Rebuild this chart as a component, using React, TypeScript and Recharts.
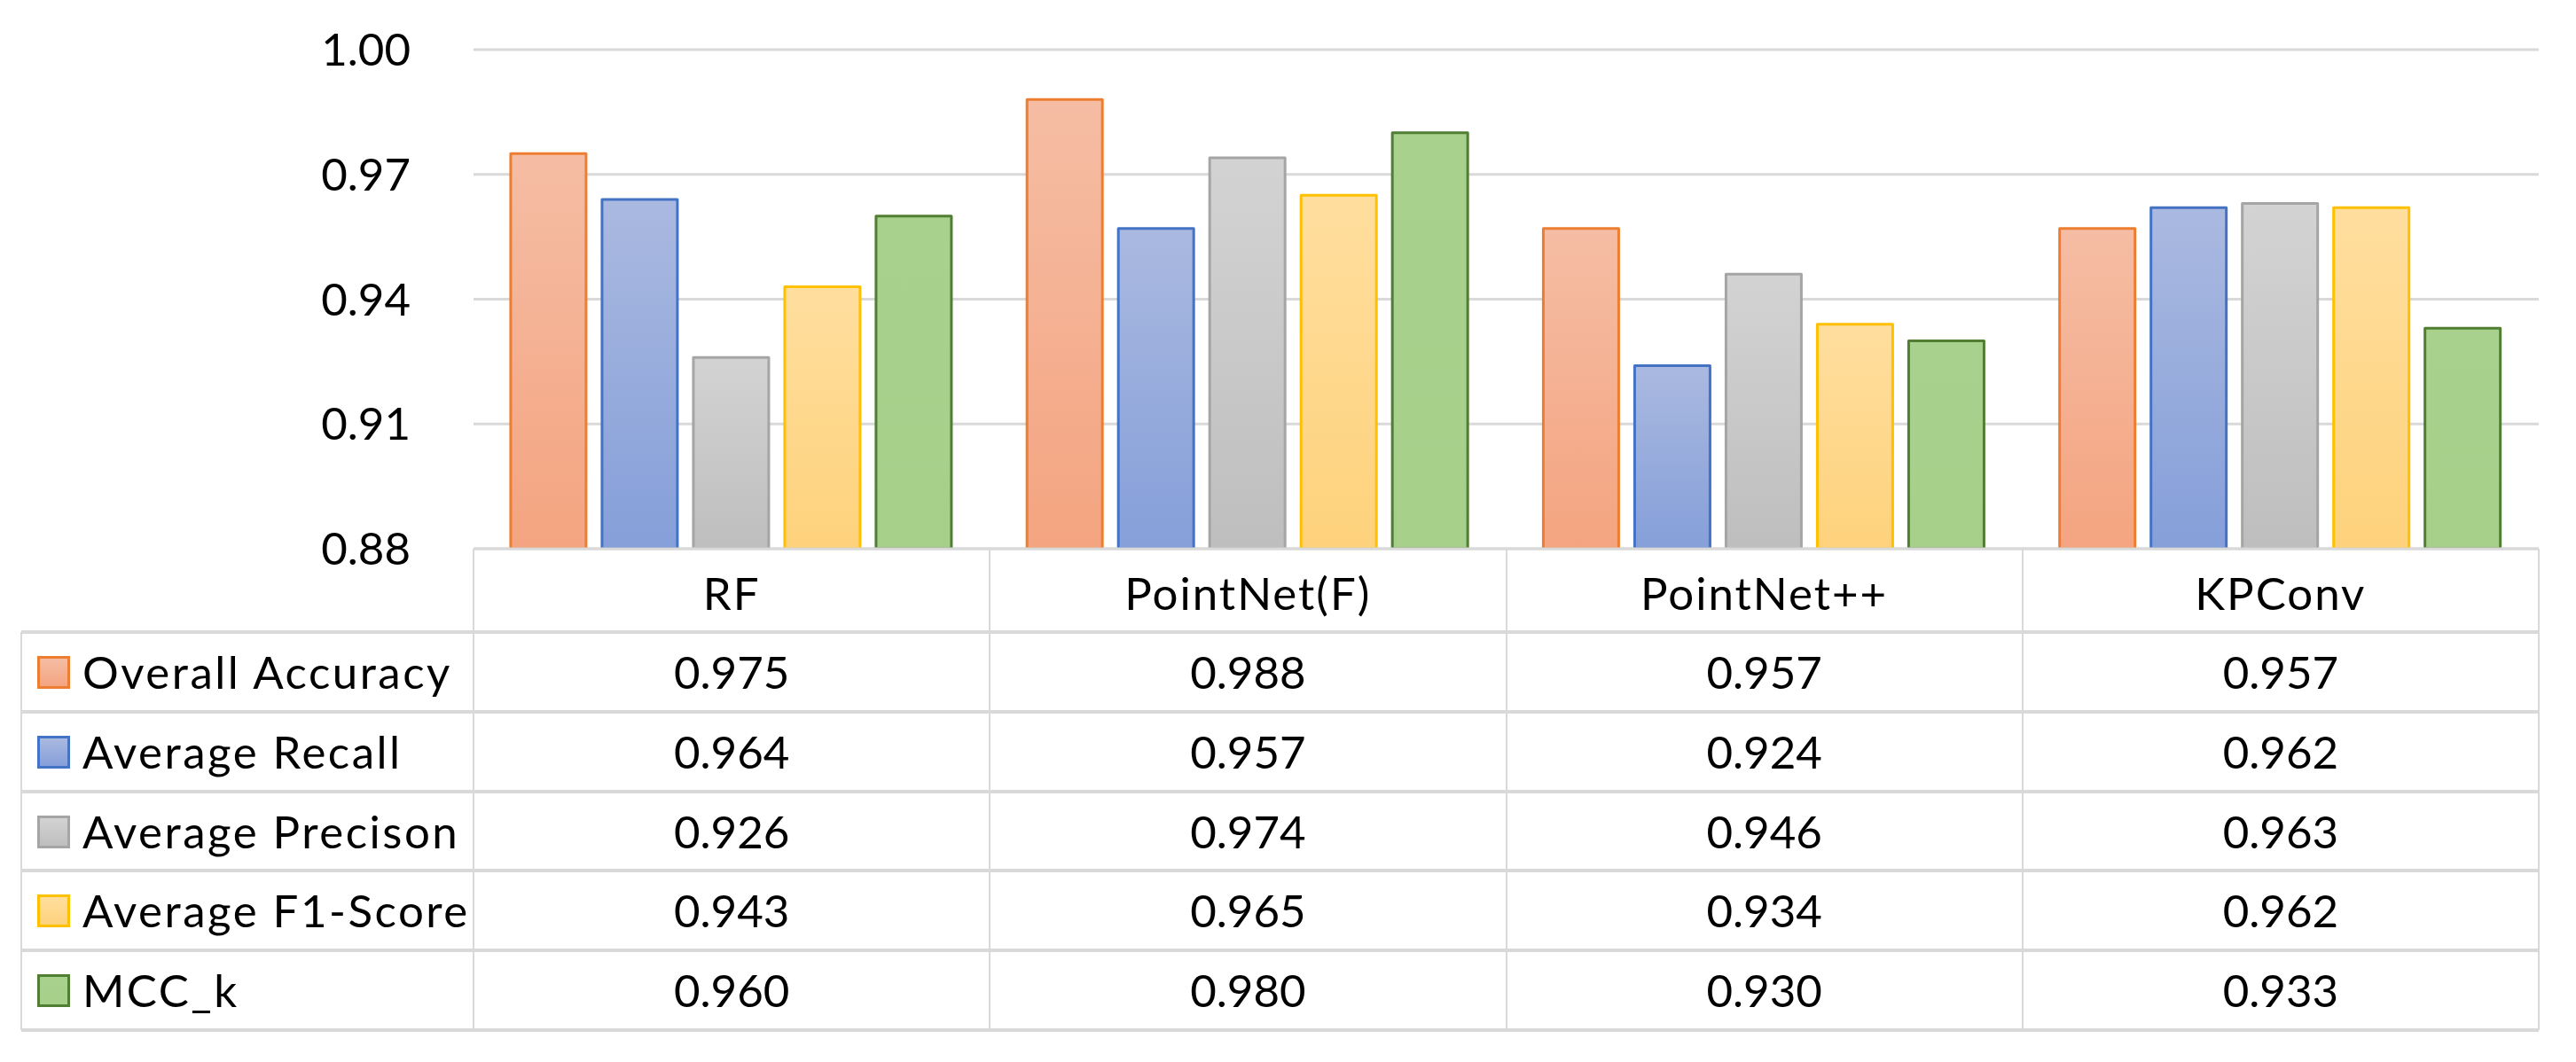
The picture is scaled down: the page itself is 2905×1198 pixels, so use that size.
import React from 'react'
import { BarChart, Bar, XAxis, YAxis, CartesianGrid } from 'recharts'

const models = ['RF', 'PointNet(F)', 'PointNet++', 'KPConv']
const metrics = [
  'Overall Accuracy',
  'Average Recall',
  'Average Precison',
  'Average F1-Score',
  'MCC_k'
]
const overallAccuracy = [0.975, 0.988, 0.957, 0.957]
const averageRecall = [0.964, 0.957, 0.924, 0.962]
const averagePrecision = [0.926, 0.974, 0.946, 0.963]
const averageF1 = [0.943, 0.965, 0.934, 0.962]
const mccK = [0.96, 0.98, 0.93, 0.933]
const yTicks = [0.88, 0.91, 0.94, 0.97, 1.0]

const seriesValues = [overallAccuracy, averageRecall, averagePrecision, averageF1, mccK]

const SERIES = [
  { key: 'oa', top: '#F5BDA4', bottom: '#F4A480', stroke: '#ED7D31' },
  { key: 'ar', top: '#AAB9E0', bottom: '#859FD9', stroke: '#4472C4' },
  { key: 'ap', top: '#D3D3D3', bottom: '#BEBEBE', stroke: '#A5A5A5' },
  { key: 'af', top: '#FFDE9E', bottom: '#FED27C', stroke: '#FFC000' },
  { key: 'mcc', top: '#A9D18E', bottom: '#A6D08A', stroke: '#507E32' }
]

const W = 2905
const H = 1198
const PLOT_LEFT = 534
const PLOT_RIGHT = 2863
const PLOT_TOP = 56
const PLOT_BOTTOM = 619
const HEADER_H = 94
const TABLE_LEFT = 24
const ROW_LINES = [713, 803, 893, 982, 1072, 1162]
const FONT = 'Lato, "Open Sans", sans-serif'
const GRID = '#D9D9D9'

const chartData = models.map((m, i) => {
  const row: any = { name: m }
  SERIES.forEach((s, j) => {
    row[s.key] = seriesValues[j][i]
  })
  return row
})

const CategoryTick = ({ x, y, payload }: any) => (
  <text
    x={x}
    y={y + HEADER_H / 2}
    textAnchor="middle"
    dominantBaseline="central"
    fontSize={51}
    fontFamily={FONT}
    letterSpacing={2}
    fill="#000"
  >
    {payload.value}
  </text>
)

export default function App() {
  const colW = (PLOT_RIGHT - PLOT_LEFT) / models.length

  return (
    <div
      style={{
        position: 'absolute',
        left: 0,
        top: 0,
        width: W,
        height: H,
        background: '#fff',
        fontFamily: FONT
      }}
    >
      <BarChart
        width={W}
        height={H}
        data={chartData}
        margin={{ top: PLOT_TOP, right: W - PLOT_RIGHT, bottom: H - PLOT_BOTTOM - HEADER_H, left: 0 }}
        barCategoryGap="7.2%"
        barGap={18}
      >
        <defs>
          {SERIES.map((s) => (
            <linearGradient key={s.key} id={`grad-${s.key}`} x1="0" y1="0" x2="0" y2="1">
              <stop offset="0%" stopColor={s.top} />
              <stop offset="100%" stopColor={s.bottom} />
            </linearGradient>
          ))}
        </defs>
        <CartesianGrid vertical={false} stroke={GRID} strokeWidth={3} />
        <XAxis
          dataKey="name"
          height={HEADER_H}
          tickLine={false}
          tickSize={0}
          axisLine={{ stroke: GRID, strokeWidth: 3 }}
          tick={<CategoryTick />}
          interval={0}
        />
        <YAxis
          width={PLOT_LEFT}
          domain={[0.88, 1.0]}
          ticks={yTicks}
          allowDataOverflow
          axisLine={false}
          tickLine={false}
          tickSize={0}
          tickMargin={71}
          tickFormatter={(v: number) => v.toFixed(2)}
          tick={{ fontSize: 51, fontFamily: FONT, fill: '#000' }}
        />
        {SERIES.map((s) => (
          <Bar
            key={s.key}
            dataKey={s.key}
            fill={`url(#grad-${s.key})`}
            stroke={s.stroke}
            strokeWidth={3}
            strokeLinejoin="round"
            isAnimationActive={false}
          />
        ))}
      </BarChart>

      {/* data table under the plot */}
      <div style={{ position: 'absolute', left: 0, top: 0, width: W, height: H, pointerEvents: 'none' }}>
        {[0, 1, 2, 3, 4].map((i) => (
          <div
            key={`v${i}`}
            style={{
              position: 'absolute',
              left: PLOT_LEFT + i * colW - 1,
              top: PLOT_BOTTOM,
              width: 2,
              height: ROW_LINES[ROW_LINES.length - 1] - PLOT_BOTTOM,
              background: GRID
            }}
          />
        ))}
        <div
          style={{
            position: 'absolute',
            left: TABLE_LEFT - 1,
            top: ROW_LINES[0],
            width: 2,
            height: ROW_LINES[ROW_LINES.length - 1] - ROW_LINES[0],
            background: GRID
          }}
        />
        {ROW_LINES.map((y, i) => (
          <div
            key={`h${i}`}
            style={{
              position: 'absolute',
              left: TABLE_LEFT,
              top: y - 2,
              width: PLOT_RIGHT - TABLE_LEFT,
              height: 4,
              background: GRID
            }}
          />
        ))}
        {metrics.map((m, r) => {
          const top = ROW_LINES[r]
          const h = ROW_LINES[r + 1] - ROW_LINES[r]
          const s = SERIES[r]
          return (
            <React.Fragment key={m}>
              <div
                style={{
                  position: 'absolute',
                  left: 42,
                  top: top + h / 2 - 18,
                  width: 31,
                  height: 31,
                  border: `3px solid ${s.stroke}`,
                  background: `linear-gradient(${s.top}, ${s.bottom})`
                }}
              />
              <div
                style={{
                  position: 'absolute',
                  left: 93,
                  top,
                  height: h,
                  lineHeight: `${h}px`,
                  fontSize: 51,
                  letterSpacing: 2.5,
                  color: '#000',
                  whiteSpace: 'nowrap'
                }}
              >
                {m}
              </div>
              {models.map((model, c) => (
                <div
                  key={model}
                  style={{
                    position: 'absolute',
                    left: PLOT_LEFT + c * colW,
                    top,
                    width: colW,
                    height: h,
                    lineHeight: `${h}px`,
                    textAlign: 'center',
                    fontSize: 51,
                    color: '#000'
                  }}
                >
                  {seriesValues[r][c].toFixed(3)}
                </div>
              ))}
            </React.Fragment>
          )
        })}
      </div>
    </div>
  )
}
